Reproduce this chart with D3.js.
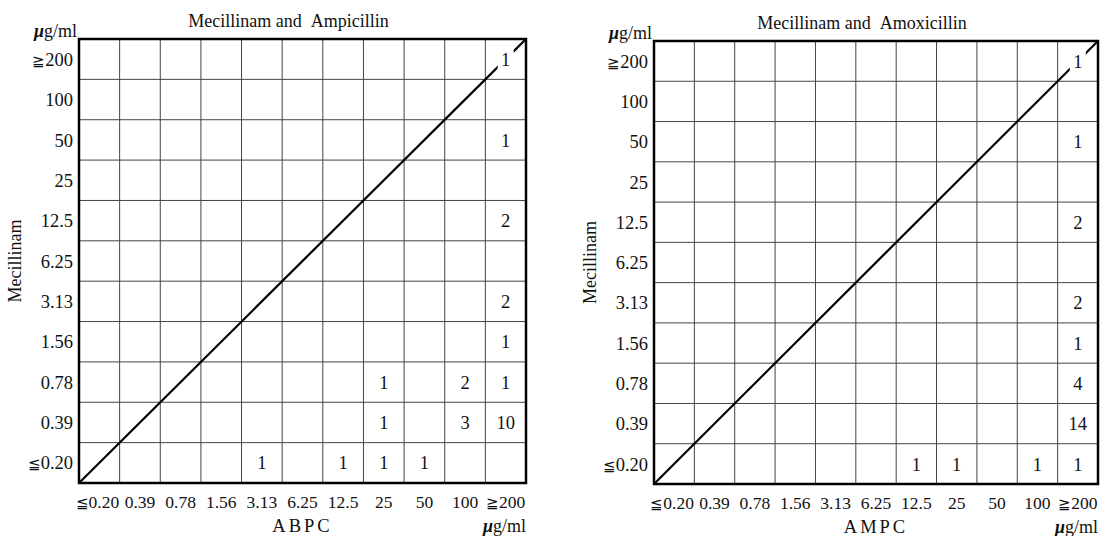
<!DOCTYPE html>
<html>
<head>
<meta charset="utf-8">
<script src="https://cdn.jsdelivr.net/npm/d3@7"></script>
<style>
  body { margin: 0; background: #fff; }
  svg text { font-family: "Liberation Serif", "DejaVu Serif", serif; fill: #111; }
</style>
</head>
<body>
<svg width="1100" height="536"></svg>
<script>
// concentration steps, used on both axes (ug/ml)
var concLabels = ["≦0.20", "0.39", "0.78", "1.56", "3.13", "6.25", "12.5", "25", "50", "100", "≧200"];

// number of strains in each cell: [x drug MIC, Mecillinam MIC, count]
var ampicillinCells = [
  ["≧200", "≧200", 1],
  ["≧200", "50", 1],
  ["≧200", "12.5", 2],
  ["≧200", "3.13", 2],
  ["≧200", "1.56", 1],
  ["25", "0.78", 1], ["100", "0.78", 2], ["≧200", "0.78", 1],
  ["25", "0.39", 1], ["100", "0.39", 3], ["≧200", "0.39", 10],
  ["3.13", "≦0.20", 1], ["12.5", "≦0.20", 1], ["25", "≦0.20", 1], ["50", "≦0.20", 1]
];
var amoxicillinCells = [
  ["≧200", "≧200", 1],
  ["≧200", "50", 1],
  ["≧200", "12.5", 2],
  ["≧200", "3.13", 2],
  ["≧200", "1.56", 1],
  ["≧200", "0.78", 4],
  ["≧200", "0.39", 14],
  ["12.5", "≦0.20", 1], ["25", "≦0.20", 1], ["100", "≦0.20", 1], ["≧200", "≦0.20", 1]
];

var titles = ["Mecillinam and\u00a0\u00a0Ampicillin", "Mecillinam and\u00a0\u00a0Amoxicillin"];
var xNames = ["ABPC", "AMPC"];
var yName = "Mecillinam";

var svg = d3.select("svg");

// panel frames (left, right, top, bottom)
var panels = [
  {box: [79, 526, 39, 483], cells: ampicillinCells, title: titles[0], xName: xNames[0]},
  {box: [654, 1098, 41, 484], cells: amoxicillinCells, title: titles[1], xName: xNames[1]}
];

function unitLabel(sel) {
  sel.append("tspan").style("font-style", "italic").style("font-weight", "bold").text("\u03bc");
  sel.append("tspan").text("g/ml");
}

// the ≦ / ≧ signs are set smaller, like in the print
function concText(sel) {
  sel.each(function(d) {
    var t = d3.select(this);
    var c = d.charAt(0);
    if (c === "≦" || c === "≧") {
      t.append("tspan").style("font-size", "15px").text(c);
      t.append("tspan").text(d.slice(1));
    } else {
      t.text(d);
    }
  });
}

panels.forEach(function(p) {
  var L = p.box[0], R = p.box[1], T = p.box[2], B = p.box[3];
  var x = d3.scaleBand().domain(concLabels).range([L, R]);
  var y = d3.scaleBand().domain(concLabels.slice().reverse()).range([T, B]);
  var g = svg.append("g");

  // inner grid lines
  g.selectAll(".vl").data(concLabels.slice(1)).enter().append("line")
    .attr("x1", function(d) { return x(d); }).attr("x2", function(d) { return x(d); })
    .attr("y1", T).attr("y2", B)
    .attr("stroke", "#444").attr("stroke-width", 1);
  g.selectAll(".hl").data(y.domain().slice(1)).enter().append("line")
    .attr("x1", L).attr("x2", R)
    .attr("y1", function(d) { return y(d); }).attr("y2", function(d) { return y(d); })
    .attr("stroke", "#444").attr("stroke-width", 1);

  // diagonal line of equal MIC
  var first = concLabels[0], last = concLabels[concLabels.length - 1];
  g.append("line")
    .attr("x1", x(first)).attr("y1", y(first) + y.bandwidth())
    .attr("x2", x(last) + x.bandwidth()).attr("y2", y(last))
    .attr("stroke", "#000").attr("stroke-width", 2.2);

  // counts
  var cell = g.selectAll(".cell").data(p.cells).enter().append("g")
    .attr("transform", function(d) {
      return "translate(" + (x(d[0]) + x.bandwidth() / 2) + "," + (y(d[1]) + y.bandwidth() / 2) + ")";
    });
  cell.filter(function(d) { return d[0] === d[1]; }).append("rect")
    .attr("x", -8).attr("y", -12).attr("width", 16).attr("height", 24).attr("fill", "#fff");
  cell.append("text")
    .attr("text-anchor", "middle").attr("dy", "0.36em")
    .style("font-size", "18.5px")
    .text(function(d) { return d[2]; });

  // frame
  g.append("rect").attr("x", L).attr("y", T).attr("width", R - L).attr("height", B - T)
    .attr("fill", "none").attr("stroke", "#000").attr("stroke-width", 2.5);

  // tick labels
  g.selectAll(".xt").data(concLabels).enter().append("text")
    .attr("x", function(d, i) { return x(d) + x.bandwidth() / 2 - (i === 0 ? 2 : 0); })
    .attr("y", B + 25)
    .attr("text-anchor", "middle").style("font-size", "17.5px")
    .call(concText);
  g.selectAll(".yt").data(concLabels).enter().append("text")
    .attr("x", L - 6)
    .attr("y", function(d) { return y(d) + y.bandwidth() / 2; })
    .attr("dy", "0.36em")
    .attr("text-anchor", "end").style("font-size", "18.5px")
    .call(concText);

  // titles and axis names
  g.append("text").attr("x", (L + R) / 2 - 14).attr("y", T - 12)
    .attr("text-anchor", "middle").style("font-size", "18px").text(p.title);
  g.append("text").attr("x", (L + R) / 2).attr("y", B + 49)
    .attr("text-anchor", "middle").style("font-size", "18.5px").style("letter-spacing", "3px")
    .text(p.xName);
  g.append("text").attr("x", R).attr("y", B + 49)
    .attr("text-anchor", "end").style("font-size", "18px").call(unitLabel);
  g.append("text").attr("x", L - 2).attr("y", T - 2)
    .attr("text-anchor", "end").style("font-size", "18px").call(unitLabel);
  g.append("text")
    .attr("transform", "translate(" + (L - 58) + "," + ((T + B) / 2) + ") rotate(-90)")
    .attr("text-anchor", "middle").style("font-size", "18px").text(yName);
});
</script>
</body>
</html>
